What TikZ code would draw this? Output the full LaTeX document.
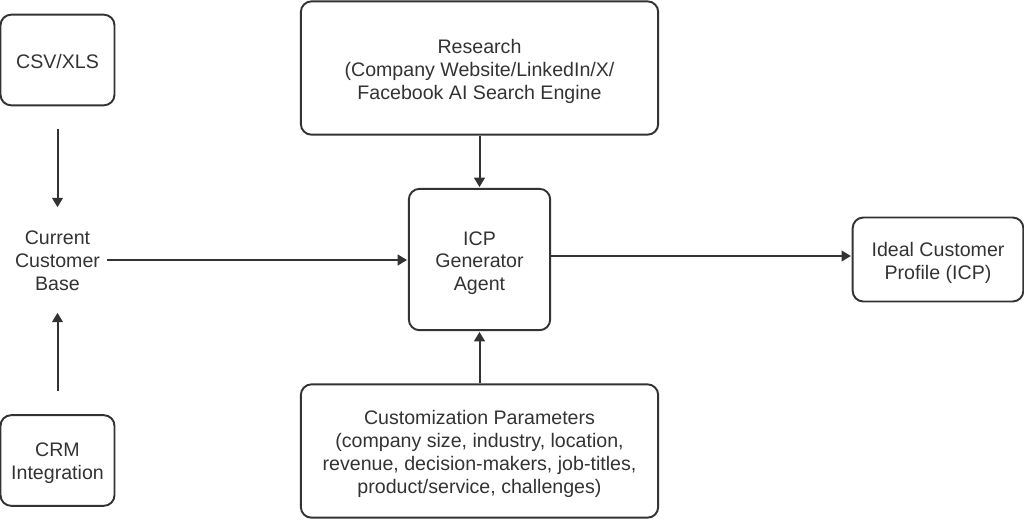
\documentclass[tikz,border=0pt]{standalone}
\usepackage{fontspec}
\setmainfont{Liberation Sans}
\usetikzlibrary{arrows.meta}
\definecolor{ink}{HTML}{333333}
\newcommand\tg[1]{\rule{0pt}{\dimexpr 10.7pt+#1pt\relax}}
\tikzset{
 px/.style={x=0.75pt,y=-0.75pt},
 boxn/.style={draw=ink,line width=1.45pt,rounded corners=8pt,inner sep=0pt,align=center,font=\fontsize{14.7}{17.2}\selectfont,text=ink},
 lab/.style={align=center,inner sep=0pt,font=\fontsize{14.7}{17.2}\selectfont,text=ink},
 conn/.style={draw=ink,line width=1.5pt,-{Triangle[length=7pt,width=8pt]},shorten >=0.6pt}
}
\begin{document}
\begin{tikzpicture}[px]
\useasboundingbox (0,0) rectangle (1024,519);
\node[boxn,minimum width=85.5pt,minimum height=68pt] (csv) at (57.5,60) {\tg{1.5}CSV/XLS};
\node[boxn,minimum width=85.5pt,minimum height=68pt] (crm) at (57.5,460.5) {\tg{3.5}CRM\\Integration};
\node[lab] (base) at (57.5,261) {Current\\Customer\\Base};
\node[boxn,minimum width=268pt,minimum height=100pt] (res) at (479.5,68) {\tg{5}Research\\(Company Website/LinkedIn/X/\\Facebook AI Search Engine};
\node[boxn,minimum width=106pt,minimum height=106pt] (icp) at (479.5,259.5) {\tg{5}ICP\\Generator\\Agent};
\node[boxn,minimum width=268pt,minimum height=100pt] (par) at (479.5,451) {\tg{4.5}Customization Parameters\\(company size, industry, location,\\revenue, decision-makers, job-titles,\\product/service, challenges)};
\node[boxn,minimum width=128pt,minimum height=63pt] (out) at (938,259.5) {\tg{5.5}Ideal Customer\\Profile (ICP)};
\coordinate (a1) at (57.5,129);
\coordinate (a2) at (57.5,208);
\coordinate (b1) at (57.5,391);
\coordinate (b2) at (57.5,312);
\coordinate (c1) at (107,260);
\draw[conn] (a1) -- (a2);
\draw[conn] (b1) -- (b2);
\draw[conn] (c1) -- (icp.west |- c1);
\draw[conn] (res.south) -- (icp.north);
\draw[conn] (par.north) -- (icp.south);
\draw[conn] (icp.east |- 0,256) -- (out.west |- 0,256);
\end{tikzpicture}
\end{document}
